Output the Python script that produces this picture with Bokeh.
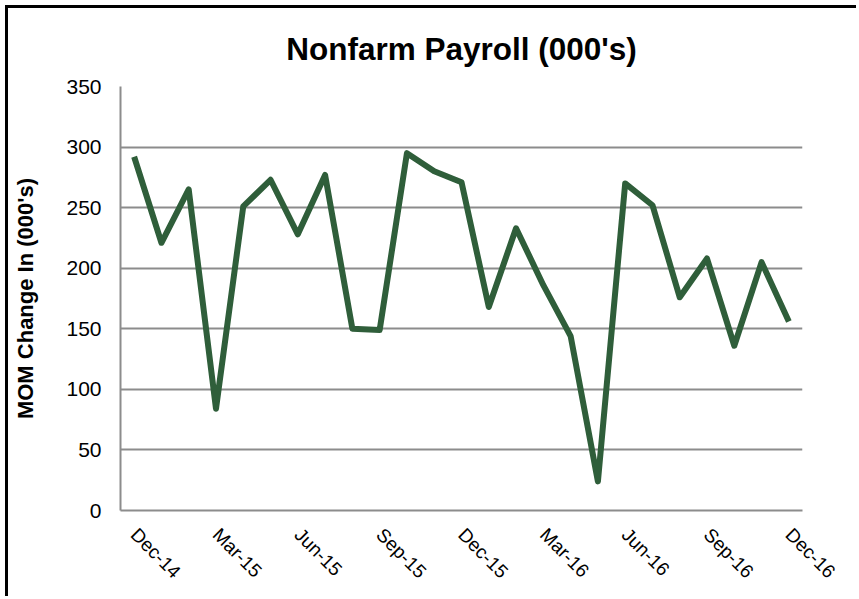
import math
from bokeh.plotting import figure
from bokeh.models import FixedTicker, ColumnDataSource, Title
from bokeh.embed import file_html
from bokeh.resources import INLINE

months = ["Dec-14", "Jan-15", "Feb-15", "Mar-15", "Apr-15", "May-15", "Jun-15",
          "Jul-15", "Aug-15", "Sep-15", "Oct-15", "Nov-15", "Dec-15", "Jan-16",
          "Feb-16", "Mar-16", "Apr-16", "May-16", "Jun-16", "Jul-16", "Aug-16",
          "Sep-16", "Oct-16", "Nov-16", "Dec-16"]
payroll = [292, 221, 265, 84, 251, 273, 228, 277, 150, 149, 295, 280, 271, 168,
           233, 186, 144, 24, 270, 252, 176, 208, 136, 205, 156]
y_ticks = [0, 50, 100, 150, 200, 250, 300, 350]
label_every = 3

idx = list(range(len(months)))
src = ColumnDataSource(data=dict(x=idx, y=payroll, month=months))

FONT = "Liberation Sans"

p = figure(width=851, height=591, output_backend="svg", toolbar_location=None,
           x_range=(-0.5, len(months) - 0.5), y_range=(0, 350),
           min_border_left=112, min_border_right=57, min_border_top=77,
           min_border_bottom=89)
p.styles = {"margin-left": "5px", "margin-top": "5px",
            "border-left": "3px solid #000", "border-top": "3px solid #000"}

p.title = Title(text="Nonfarm Payroll (000's)", align="center",
                text_font=FONT, text_font_size="31.5px", text_font_style="bold",
                text_color="#000000", standoff=40)

p.line("x", "y", source=src, line_color="#2F5E3A", line_width=6,
       line_join="round")

p.outline_line_color = None
p.background_fill_color = "white"
p.border_fill_color = "white"

# x axis
p.xaxis.ticker = FixedTicker(ticks=idx[::label_every])
p.xaxis.major_label_overrides = {i: months[i] for i in idx[::label_every]}
p.xaxis.major_label_orientation = -math.pi / 4
p.xaxis.major_label_text_font = FONT
p.xaxis.major_label_text_font_size = "19px"
p.xaxis.major_label_text_color = "#000000"
p.xaxis.major_label_standoff = 15
p.xaxis.major_tick_line_color = None
p.xaxis.minor_tick_line_color = None
p.xaxis.axis_line_color = "#8c8c8c"
p.xaxis.axis_line_width = 2

# y axis
p.yaxis.ticker = FixedTicker(ticks=y_ticks)
p.yaxis.major_label_text_font = FONT
p.yaxis.major_label_text_font_size = "21px"
p.yaxis.major_label_text_color = "#000000"
p.yaxis.major_label_standoff = 13
p.yaxis.major_tick_line_color = None
p.yaxis.minor_tick_line_color = None
p.yaxis.axis_line_color = "#8c8c8c"
p.yaxis.axis_line_width = 2
p.yaxis.axis_label = "MOM Change In (000's)"
p.yaxis.axis_label_text_font = FONT
p.yaxis.axis_label_text_font_size = "22px"
p.yaxis.axis_label_text_font_style = "bold"
p.yaxis.axis_label_text_color = "#000000"
p.yaxis.axis_label_standoff = 25

p.xgrid.grid_line_color = None
p.ygrid.ticker = FixedTicker(ticks=y_ticks)
p.ygrid.grid_line_color = "#8c8c8c"
p.ygrid.grid_line_width = 2

open("out.html", "w").write(file_html(p, INLINE))
